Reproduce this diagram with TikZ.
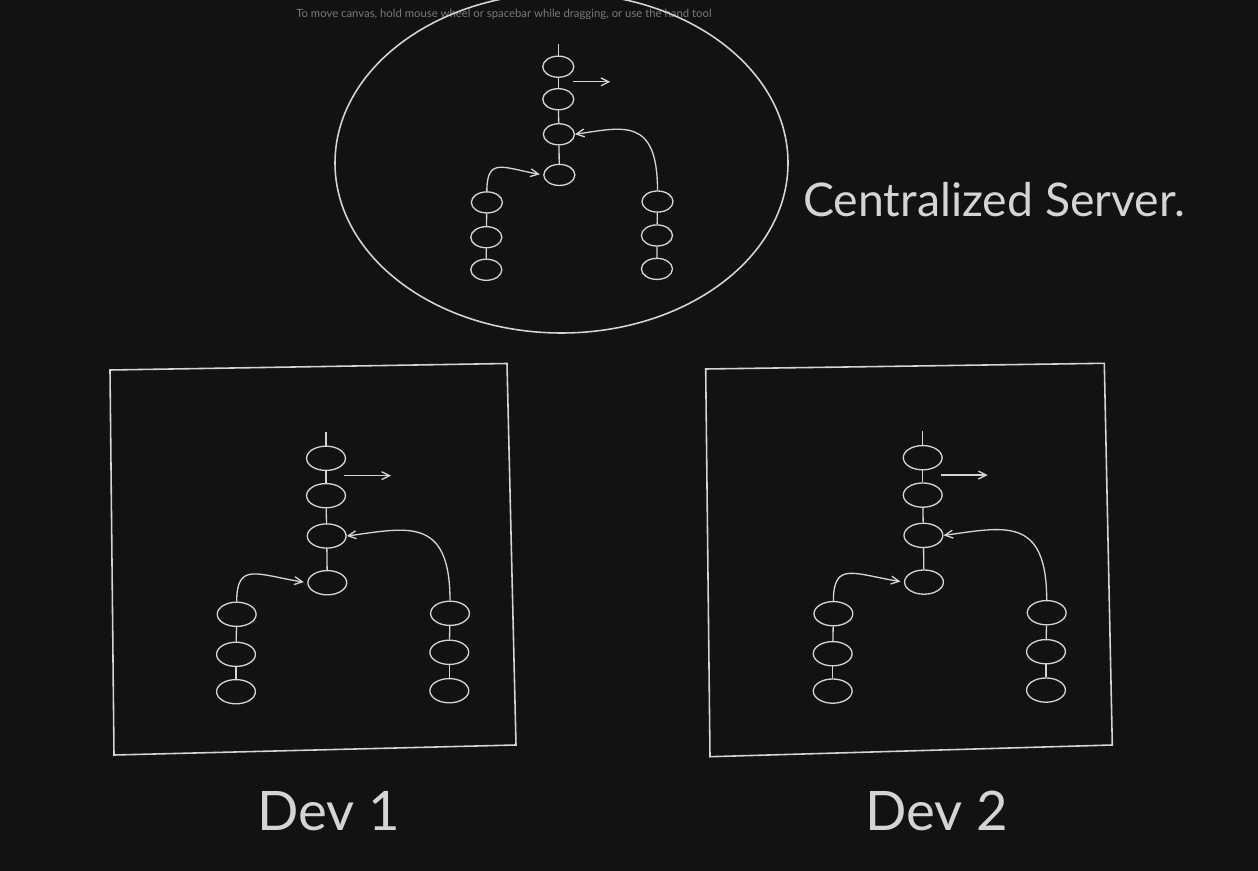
\documentclass[tikz,border=0pt]{standalone}
\usepackage{fontspec}
\setmainfont{Lato}
\usetikzlibrary{arrows.meta,shapes.geometric}

\definecolor{canvas}{HTML}{121212}
\definecolor{chalk}{HTML}{D4D4D4}
\definecolor{hintgray}{HTML}{7A7A7A}

\tikzset{
    commit/.style={ellipse, draw=chalk, line width=0.75pt, inner sep=0pt,
        minimum width=22.1pt, minimum height=13.8pt},
    link/.style={chalk, line width=0.75pt},
    outline/.style={chalk, line width=0.9pt},
    label/.style={text=chalk, inner sep=0pt},
    repo/.pic={
        \node [commit] (-m1) at (0,0) {};
        \node [commit] (-m2) at (0,37.4) {};
        \node [commit] (-m3) at (0.7,77.7) {};
        \node [commit] (-m4) at (1.3,124.4) {};
        \node [commit] (-l1) at (-89.3,156) {};
        \node [commit] (-l2) at (-90,196) {};
        \node [commit] (-l3) at (-90,233.4) {};
        \node [commit] (-r1) at (124,155) {};
        \node [commit] (-r2) at (123.3,194) {};
        \node [commit] (-r3) at (123.3,232.4) {};
        \coordinate (-tip) at (0,-26.6);
        \coordinate (-out) at (18.3,17.4);
        \coordinate (-push) at (65,17.4);
        \draw [link] (-tip) -- (-m1);
        \draw [link] (-m1) -- (-m2);
        \draw [link] (-m2) -- (-m3);
        \draw [link] (-m3) -- (-m4);
        \draw [link] (-l1) -- (-l2);
        \draw [link] (-l2) -- (-l3);
        \draw [link] (-r1) -- (-r2);
        \draw [link] (-r2) -- (-r3);
        \draw [link, ->] (-out) -- (-push);
        \draw [link, ->, shorten >=2pt] (-l1.north) .. controls +(0,-40) and +(-50,-8) .. (-m4.west);
        \draw [link, ->] (-r1.north) .. controls +(0,-85) and +(60,-8) .. (-m3.east);
    }
}

\begin{document}
\begin{tikzpicture}[x=0.02cm, y=-0.02cm, >={Straight Barb[length=4.5pt,width=4.5pt]}]
        \fill [canvas] (0,0) rectangle (1258,871);
        \useasboundingbox (0,0) rectangle (1258,871);
        \clip (0,0) rectangle (1258,871);

        \node [anchor=base, text=hintgray, inner sep=0pt, font=\fontsize{6.45}{8}\selectfont] (hint) at (504,18)
            {To move canvas, hold mouse wheel or spacebar while dragging, or use the hand tool};

        % server
        \draw [outline] (561.5,163) ellipse [x radius=226.5, y radius=170];
        \pic [xscale=0.8, yscale=0.87, transform shape] (server) at (558.3,66.7) {repo};
        \node [label, anchor=base west, font=\fontsize{26.4}{30}\selectfont] (server-label) at (803,217) {Centralized Server.};

        % developers
        \draw [outline] (110,370) -- (507,363.5) -- (516,745) -- (114,755) -- cycle;
        \pic (dev1) at (326,458.3) {repo};
        \node [label, anchor=base, font=\fontsize{31}{36}\selectfont] (dev1-label) at (328.5,830) {Dev 1};

        \draw [outline] (705.7,369) -- (1104.3,363.3) -- (1112.3,745) -- (710,756.7) -- cycle;
        \pic (dev2) at (922.7,457.7) {repo};
        \node [label, anchor=base, font=\fontsize{31}{36}\selectfont] (dev2-label) at (936.5,830) {Dev 2};
\end{tikzpicture}
\end{document}
